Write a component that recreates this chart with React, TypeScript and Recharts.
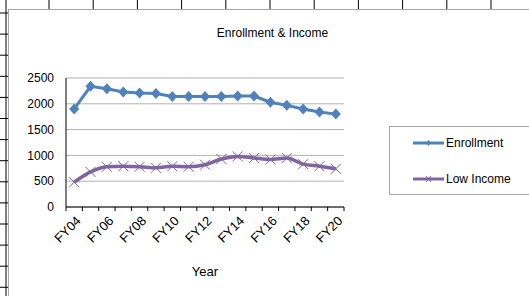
import React from "react";
import { LineChart, Line, XAxis, YAxis, CartesianGrid } from "recharts";

const years = ["FY04", "FY05", "FY06", "FY07", "FY08", "FY09", "FY10", "FY11", "FY12", "FY13", "FY14", "FY15", "FY16", "FY17", "FY18", "FY19", "FY20"];
const enrollment = [1900, 2340, 2290, 2230, 2210, 2200, 2140, 2140, 2140, 2140, 2150, 2150, 2030, 1970, 1900, 1840, 1800];
const lowIncome = [480, 680, 780, 790, 780, 760, 790, 780, 820, 930, 980, 950, 920, 950, 830, 790, 740];
const yTicks = [0, 500, 1000, 1500, 2000, 2500];

const data = years.map((y, i) => ({ year: y, enrollment: enrollment[i], lowIncome: lowIncome[i] }));

const BLUE = "#4F81BD";
const PURPLE = "#8064A2";
const GRID = "#B3B3B3";
const FONT = '"Liberation Sans", Arial, sans-serif';

const W = 529;
const H = 296;
const MARGIN = { top: 78, right: 185, left: 36, bottom: 14 };
const Y_WIDTH = 30;
const PLOT_W = W - MARGIN.left - MARGIN.right - Y_WIDTH;
const BAND = PLOT_W / years.length;

// spreadsheet cells behind the chart
const colLines = Array.from({ length: 11 }, (_, i) => 49 + i * 44.2);
const rowLines = Array.from({ length: 14 }, (_, i) => 13 + i * 21.1);

function Diamond(props: any) {
  const { cx, cy } = props;
  if (cx == null || cy == null) return null;
  return <polygon points={`${cx},${cy - 5.5} ${cx + 5},${cy} ${cx},${cy + 5.5} ${cx - 5},${cy}`} fill={BLUE} />;
}

function Cross(props: any) {
  const { cx, cy } = props;
  if (cx == null || cy == null) return null;
  return (
    <g stroke={PURPLE} strokeWidth={1}>
      <line x1={cx - 5} y1={cy - 5} x2={cx + 5} y2={cy + 5} />
      <line x1={cx - 5} y1={cy + 5} x2={cx + 5} y2={cy - 5} />
    </g>
  );
}

function XTick(props: any) {
  const { x, y, payload, index } = props;
  const tx = x + 1;
  const ty = y + 8;
  return (
    <g>
      <line x1={x - BAND / 2} x2={x - BAND / 2} y1={y} y2={y + 4} stroke="#000" />
      {index === years.length - 1 && <line x1={x + BAND / 2} x2={x + BAND / 2} y1={y} y2={y + 4} stroke="#000" />}
      {index % 2 === 0 && (
        <text x={tx} y={ty} dy="0.71em" textAnchor="end" transform={`rotate(-45 ${tx} ${ty})`} fontSize={13} fill="#000" fontFamily={FONT}>
          {payload.value}
        </text>
      )}
    </g>
  );
}

function LegendItem({ color, label, marker }: { color: string; label: string; marker: "diamond" | "cross" }) {
  return (
    <div style={{ display: "flex", alignItems: "center", height: 18 }}>
      <svg width={34} height={10} style={{ marginLeft: 22 }}>
        <line x1={1} x2={32} y1={5} y2={5} stroke={color} strokeWidth={3} />
        {marker === "diamond" ? (
          <polygon points="16.5,2 19,5 16.5,8 14,5" fill={color} />
        ) : (
          <g stroke={color} strokeWidth={1}>
            <line x1={14} y1={2} x2={19} y2={8} />
            <line x1={14} y1={8} x2={19} y2={2} />
          </g>
        )}
      </svg>
      <span style={{ fontSize: 12 }}>{label}</span>
    </div>
  );
}

export default function App() {
  return (
    <div style={{ position: "absolute", left: 0, top: 0, width: W, height: H, overflow: "hidden", background: "#fff", fontFamily: FONT, color: "#000" }}>
      <svg width={W} height={H} style={{ position: "absolute", left: 0, top: 0 }}>
        <line x1={6} x2={6} y1={0} y2={H} stroke="#000" />
        {rowLines.map((y) => (
          <line key={y} x1={0} x2={8} y1={y} y2={y} stroke="#000" />
        ))}
        {colLines.map((x) => (
          <line key={x} x1={x} x2={x} y1={0} y2={9} stroke="#000" />
        ))}
      </svg>
      <div style={{ position: "absolute", left: 8, top: 9, width: W, height: H, borderLeft: "1px solid #A6A6A6", borderTop: "1px solid #A6A6A6", background: "#fff" }} />
      <div style={{ position: "absolute", left: 0, top: 0 }}>
        <LineChart width={W} height={H} data={data} margin={MARGIN}>
          <CartesianGrid vertical={false} stroke={GRID} />
          <XAxis
            dataKey="year"
            scale="band"
            interval={0}
            tickLine={false}
            tickSize={0}
            tickMargin={0}
            height={75}
            axisLine={{ stroke: "#000" }}
            tick={<XTick />}
            label={{ value: "Year", position: "insideBottom", offset: 6, fill: "#000", fontSize: 13, fontFamily: FONT }}
          />
          <YAxis
            domain={[0, 2500]}
            ticks={yTicks}
            width={Y_WIDTH}
            tickLine={false}
            tickSize={0}
            tickMargin={12}
            axisLine={{ stroke: "#000" }}
            tick={{ fill: "#000", fontSize: 12, fontFamily: FONT }}
          />
          <Line dataKey="enrollment" name="Enrollment" type="linear" stroke={BLUE} strokeWidth={3} dot={<Diamond />} activeDot={false} isAnimationActive={false} />
          <Line dataKey="lowIncome" name="Low Income" type="monotone" stroke={PURPLE} strokeWidth={3.5} dot={<Cross />} activeDot={false} isAnimationActive={false} />
        </LineChart>
      </div>
      <div style={{ position: "absolute", left: 0, width: 545, top: 26, textAlign: "center", fontSize: 12 }}>Enrollment &amp; Income</div>
      <div style={{ position: "absolute", left: 389, top: 126, width: 160, height: 69, border: "1px solid #A6A6A6", boxSizing: "border-box", paddingTop: 7 }}>
        <LegendItem color={BLUE} label="Enrollment" marker="diamond" />
        <div style={{ height: 18 }} />
        <LegendItem color={PURPLE} label="Low Income" marker="cross" />
      </div>
    </div>
  );
}
